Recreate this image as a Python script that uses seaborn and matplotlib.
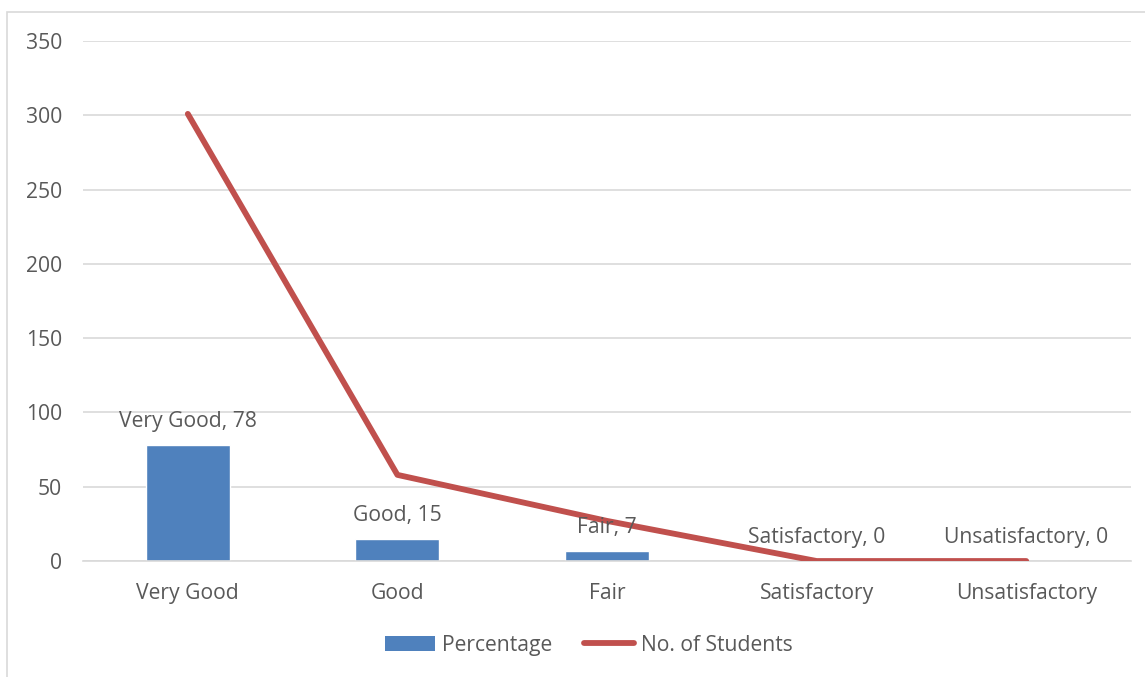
import matplotlib
matplotlib.use("Agg")
import matplotlib.pyplot as plt
from matplotlib.patches import Rectangle, Patch
from matplotlib.lines import Line2D
import seaborn as sns
import pandas as pd

# chart data
categories = ["Very Good", "Good", "Fair", "Satisfactory", "Unsatisfactory"]
percentage = [78, 15, 7, 0, 0]
students = [301, 58, 27, 0, 0]
y_ticks = [0, 50, 100, 150, 200, 250, 300, 350]

BAR_COLOR = "#4F81BD"
LINE_COLOR = "#C0504D"
TEXT_COLOR = "#595959"
GRID_COLOR = "#D9D9D9"
FONT_SIZE = 15.2

sns.set_style("white")
plt.rcParams["font.family"] = ["Open Sans", "DejaVu Sans"]

df = pd.DataFrame({"category": categories, "percentage": percentage,
                   "students": students})

fig = plt.figure(figsize=(11.45, 6.77), dpi=100)
ax = fig.add_axes([0.0725, 0.1713, 0.9153, 0.768])

# outer chart border
fig.patches.append(Rectangle((0.006, -0.05), 1.2, 1.032, transform=fig.transFigure,
                             fill=False, edgecolor=GRID_COLOR, linewidth=1.2))

sns.barplot(data=df, x="category", y="percentage", color=BAR_COLOR,
            saturation=1, width=0.4, ax=ax, zorder=2)
sns.pointplot(data=df, x="category", y="students", color=LINE_COLOR,
              marker="", linestyle="-", linewidth=4.2, errorbar=None, ax=ax,
              zorder=3)
for line in ax.lines:
    line.set_solid_capstyle("round")
    line.set_solid_joinstyle("round")

# data labels
for i, (cat, val) in enumerate(zip(categories, percentage)):
    ax.annotate(f"{cat}, {val}", xy=(i, val), xytext=(0, 17),
                textcoords="offset points", ha="center", va="center",
                fontsize=FONT_SIZE, color=TEXT_COLOR, zorder=4)

ax.set_ylim(0, 350)
ax.set_xlim(-0.5, len(categories) - 0.5)
ax.set_yticks(y_ticks)
ax.yaxis.grid(True, color=GRID_COLOR, linewidth=1.2, zorder=0)
ax.set_axisbelow(True)
ax.set_xlabel("")
ax.set_ylabel("")
for side in ["top", "right", "left"]:
    ax.spines[side].set_visible(False)
ax.spines["bottom"].set_color(GRID_COLOR)
ax.spines["bottom"].set_linewidth(1.2)
ax.tick_params(axis="both", length=0, labelsize=FONT_SIZE, labelcolor=TEXT_COLOR)
ax.tick_params(axis="y", pad=15)
ax.tick_params(axis="x", pad=16)

handles = [Patch(facecolor=BAR_COLOR, edgecolor="none", label="Percentage"),
           Line2D([0], [0], color=LINE_COLOR, linewidth=4.2,
                  solid_capstyle="round", label="No. of Students")]
fig.legend(handles=handles, loc="center", bbox_to_anchor=(0.514, 0.047),
           ncol=2, frameon=False, fontsize=FONT_SIZE, labelcolor=TEXT_COLOR,
           handlelength=2.4, handleheight=0.7, handletextpad=0.3,
           columnspacing=1.5)

fig.savefig("out.png", dpi=100)
